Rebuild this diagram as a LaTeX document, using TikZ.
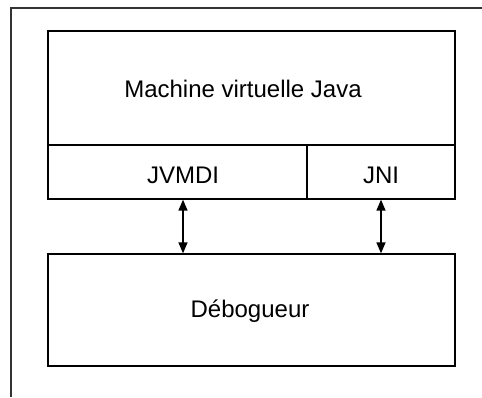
\documentclass[tikz,border=0pt]{standalone}
\usepackage{fontspec}
\setmainfont{Liberation Sans}
\usetikzlibrary{arrows.meta}
\begin{document}
\begin{tikzpicture}[x=1pt,y=-1pt,
  box/.style={draw=black, line width=1.3pt, inner sep=0pt},
  lbl/.style={inner sep=0pt, anchor=base, font=\fontsize{24}{28}\selectfont},
  link/.style={line width=1.4pt, {Triangle[length=11pt,width=9pt]}-{Triangle[length=11pt,width=9pt]}},
  frame/.style={line width=1.5pt, draw=black!80}]
  \useasboundingbox (0,0) rectangle (482,397);
  % outer frame
  \draw[frame] (482,8) -- (11,8) -- (11,397);
  % boxes
  \node[box, minimum width=407pt, minimum height=114pt] (jvm) at (251.5,88) {};
  \node[box, minimum width=259pt, minimum height=54pt] (jvmdi) at (177.5,172) {};
  \node[box, minimum width=148pt, minimum height=54pt] (jni) at (381,172) {};
  \node[box, minimum width=407pt, minimum height=112pt] (debug) at (251.5,310) {};
  % labels
  \node[lbl] (jvmtext) at (243,97) {Machine virtuelle Java};
  \node[lbl] (jvmditext) at (183,183) {JVMDI};
  \node[lbl] (jnitext) at (381,183) {JNI};
  \node[lbl] (debugtext) at (250,317) {Débogueur};
  % connectors
  \draw[link] (jvmditext |- jvmdi.south) -- (jvmditext |- debug.north);
  \draw[link] (jnitext |- jni.south) -- (jnitext |- debug.north);
\end{tikzpicture}
\end{document}
